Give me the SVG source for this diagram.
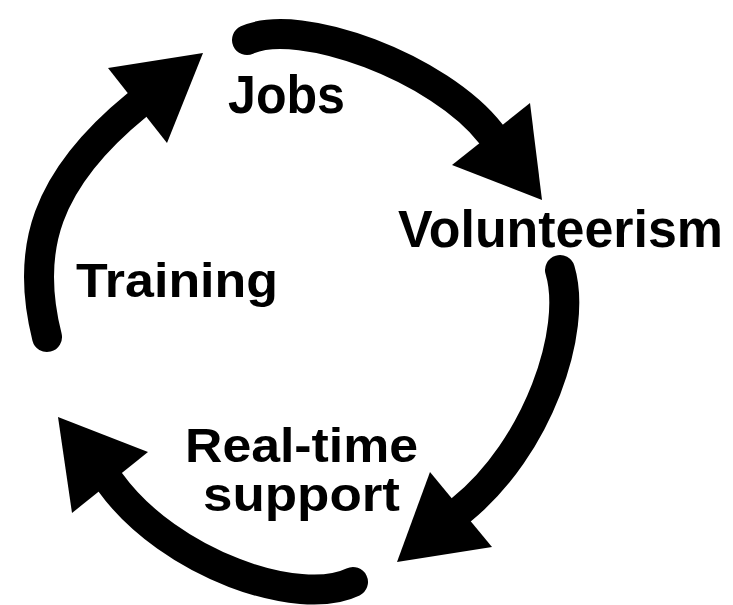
<svg xmlns="http://www.w3.org/2000/svg" width="733" height="605" viewBox="0 0 733 605">
  <style>
    .arc { fill: none; stroke: #000; stroke-width: 30; stroke-linecap: round; }
    .head { fill: #000; }
    .label { font-family: "Liberation Sans", Arial, Helvetica, sans-serif; font-weight: bold; fill: #000; }
  </style>
  <rect width="733" height="605" fill="#fff"/>

  <!-- cycle connectors -->
  <g id="connectors">
    <g id="jobs-to-volunteerism">
      <path class="arc" d="M247,40 C300,16 440,68 491,134"/>
      <polygon class="head" points="530,103 452,165 542,200"/>
    </g>
    <g id="volunteerism-to-support">
      <path class="arc" d="M560,270 C578,330 538,448 461,510"/>
      <polygon class="head" points="430,472 492,547 397,562"/>
    </g>
    <g id="support-to-training">
      <path class="arc" d="M353,582 C300,608 170,565 110,482"/>
      <polygon class="head" points="148,452 72,513 58,417"/>
    </g>
    <g id="training-to-jobs">
      <path class="arc" d="M47,337 C25,250 45,180 137,105"/>
      <polygon class="head" points="108,68 167,143 203,53"/>
    </g>
  </g>

  <g id="jobs">
    <text class="label" x="228" y="113" font-size="54" textLength="117" lengthAdjust="spacingAndGlyphs">Jobs</text>
  </g>
  <g id="volunteerism">
    <text class="label" x="398" y="247" font-size="51" textLength="325" lengthAdjust="spacingAndGlyphs">Volunteerism</text>
  </g>
  <g id="training">
    <text class="label" x="76" y="297" font-size="49" textLength="202" lengthAdjust="spacingAndGlyphs">Training</text>
  </g>
  <g id="real-time-support">
    <text class="label" x="185" y="462" font-size="48" textLength="233" lengthAdjust="spacingAndGlyphs">Real-time</text>
    <text class="label" x="203" y="511" font-size="48" textLength="197" lengthAdjust="spacingAndGlyphs">support</text>
  </g>
</svg>
